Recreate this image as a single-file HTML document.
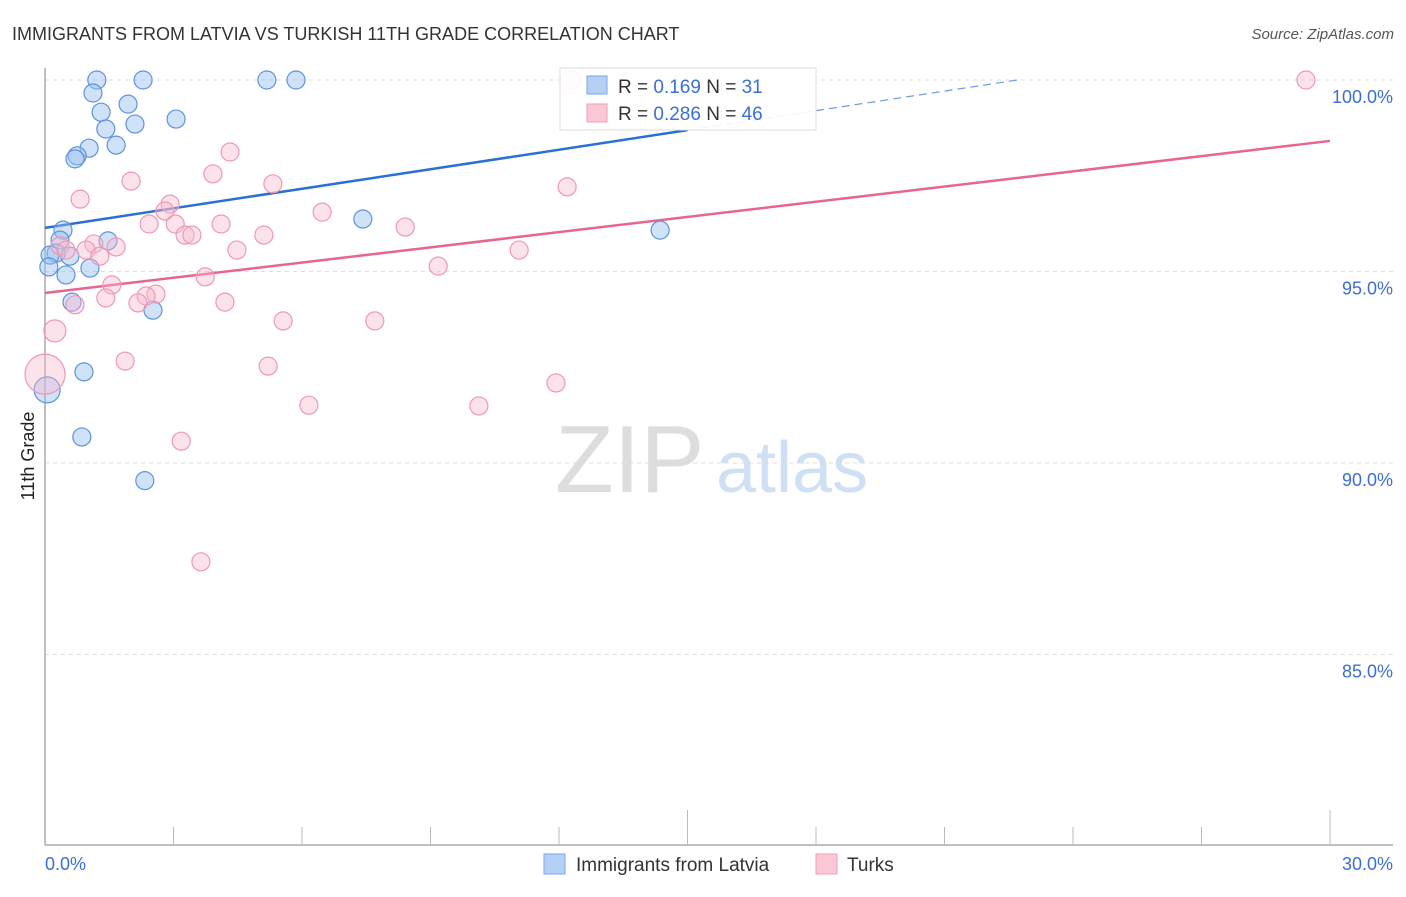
<!DOCTYPE html>
<html><head><meta charset="utf-8"><style>
body{margin:0;background:#fff;font-family:"Liberation Sans",sans-serif;}
svg text{font-family:"Liberation Sans",sans-serif;}
</style></head><body>
<svg id="chart" width="1406" height="892" xmlns="http://www.w3.org/2000/svg">
<text x="12" y="40" font-size="18" fill="#333">IMMIGRANTS FROM LATVIA VS TURKISH 11TH GRADE CORRELATION CHART</text>
<text x="1394" y="39" font-size="15" fill="#555" text-anchor="end" font-style="italic">Source: ZipAtlas.com</text>
<text transform="translate(34,456) rotate(-90)" font-size="18" fill="#222" text-anchor="middle">11th Grade</text>
<g>
<text x="555" y="492" font-size="96" fill="#ddd" font-family="Liberation Serif,serif">ZIP</text>
<text x="716" y="492" font-size="72" fill="#cfe0f5">atlas</text>
</g>
<g id="grid"></g><g id="axes"></g><g id="lines"></g><g id="pts"></g>
<g>
<rect x="560" y="68" width="256" height="62" fill="#fff" fill-opacity="0.9" stroke="#ddd"/>
<rect x="587" y="76" width="20" height="18" fill="#b5d0f5" stroke="#7aa6e6"/>
<text x="618" y="93" font-size="19" fill="#333">R = <tspan fill="#3b6fd1">0.169</tspan>   N =  <tspan fill="#3b6fd1">31</tspan></text>
<rect x="587" y="104" width="20" height="18" fill="#fbc8d6" stroke="#ef9db6"/>
<text x="618" y="120" font-size="19" fill="#333">R = <tspan fill="#3b6fd1">0.286</tspan>   N = <tspan fill="#3b6fd1">46</tspan></text>
</g>
<g>
<rect x="544" y="854" width="21" height="20" fill="#b5d0f5" stroke="#7aa6e6"/>
<text x="576" y="871" font-size="19" fill="#333">Immigrants from Latvia</text>
<rect x="816" y="854" width="21" height="20" fill="#fbc8d6" stroke="#ef9db6"/>
<text x="847" y="871" font-size="19" fill="#333">Turks</text>
</g>
</svg>
<script>
const yTicks=[100,95,90,85];
const xTickLabels=["0.0%","30.0%"];
const blueX=[1.21,2.29,5.18,5.86,1.12,1.94,1.31,2.10,3.06,1.42,1.66,1.03,0.75,0.70,7.42,14.36,0.42,0.35,1.47,0.26,0.12,0.58,0.09,1.05,0.49,0.63,2.52,0.91,0.05,0.86,2.33];
const blueY=[100,100,100,100,99.66,99.37,99.16,98.85,98.98,98.72,98.30,98.22,98.02,97.94,96.37,96.08,96.08,95.82,95.80,95.48,95.43,95.40,95.12,95.09,94.91,94.20,93.99,92.38,91.91,90.68,89.54];
const blueR=[9,9,9,9,9,9,9,9,9,9,9,9,9,9,9,9,9,9,9,9,9,9,9,9,9,9,9,9,13,9,9];
const pinkX=[12.30,29.44,4.32,2.01,3.92,5.32,12.19,0.82,2.92,2.80,6.47,2.43,3.04,4.11,8.41,3.27,3.43,5.11,0.35,0.49,1.14,1.66,0.96,1.28,4.48,11.07,9.18,3.74,1.56,2.59,2.36,1.42,2.17,4.20,0.70,5.56,7.70,0.23,1.87,5.21,0,11.93,6.16,10.13,3.18,3.64];
const pinkY=[100,100,98.12,97.36,97.55,97.29,97.21,96.89,96.76,96.58,96.55,96.24,96.24,96.24,96.16,95.95,95.95,95.95,95.67,95.56,95.72,95.64,95.56,95.40,95.56,95.56,95.14,94.86,94.65,94.41,94.36,94.31,94.18,94.20,94.13,93.71,93.71,93.45,92.66,92.53,92.32,92.09,91.51,91.49,90.57,87.42];
const pinkR=[9,9,9,9,9,9,9,9,9,9,9,9,9,9,9,9,9,9,9,9,9,9,9,9,9,9,9,9,9,9,9,9,9,9,9,9,9,11,9,9,20,9,9,9,9,9];
const blueTrend=[96.14,0.17];
const pinkTrend=[94.44,0.1323];
const NS="http://www.w3.org/2000/svg";
const X=v=>45+v*(1285/30), Y=v=>80+(100-v)*38.3;
function mk(p,t,a){const e=document.createElementNS(NS,t);for(const k in a)e.setAttribute(k,a[k]);document.getElementById(p).appendChild(e);return e;}
yTicks.forEach(t=>{
 const g=mk('grid','line',{x1:45,x2:1393,y1:Y(t),y2:Y(t),stroke:'#ddd','stroke-dasharray':'4,4'});
 
 
 const l=mk('grid','text',{x:1393,y:Y(t)+23,'font-size':18,fill:'#3b6fd1','text-anchor':'end'});
 l.textContent=t.toFixed(1)+'%';
 
 
});
const ax=mk('axes','line',{x1:45,x2:1393,y1:845,y2:845,stroke:'#aaa','stroke-width':1.5});


const ay=mk('axes','line',{x1:45,x2:45,y1:68,y2:845,stroke:'#aaa','stroke-width':1.5});


for(let i=1;i<=10;i++){const v=i*3;const tk=mk('axes','line',{x1:X(v),x2:X(v),y1:845,y2:(v%15===0)?810:827,stroke:'#bbb'});
 
 }
xTickLabels.forEach((s,i)=>{const t=mk('axes','text',{x:i?1393:45,y:870,'font-size':18,fill:'#3b6fd1','text-anchor':i?'end':'start'});t.textContent=s;
 
 });
const bl=mk('lines','line',{x1:X(0),y1:Y(blueTrend[0]),x2:X(15),y2:Y(blueTrend[0]+15*blueTrend[1]),stroke:'#2a6fd6','stroke-width':2.5});


const xe=(100-blueTrend[0])/blueTrend[1];
const bd=mk('lines','line',{x1:X(15),y1:Y(blueTrend[0]+15*blueTrend[1]),x2:X(xe),y2:Y(100),stroke:'#6b9de0','stroke-width':1.2,'stroke-dasharray':'8,5'});


const pl=mk('lines','line',{x1:X(0),y1:Y(pinkTrend[0]),x2:X(30),y2:Y(pinkTrend[0]+30*pinkTrend[1]),stroke:'#e8658f','stroke-width':2.5});


blueX.forEach((v,i)=>{const c=mk('pts','circle',{cx:X(v),cy:Y(blueY[i]),r:blueR[i],fill:'rgba(150,190,240,0.45)',stroke:'#5d93dd','stroke-width':1.2});
 
 });
pinkX.forEach((v,i)=>{const c=mk('pts','circle',{cx:X(v),cy:Y(pinkY[i]),r:pinkR[i],fill:'rgba(248,185,205,0.4)',stroke:'#ee98b3','stroke-width':1.2});
 
 });
</script>
</body></html>
